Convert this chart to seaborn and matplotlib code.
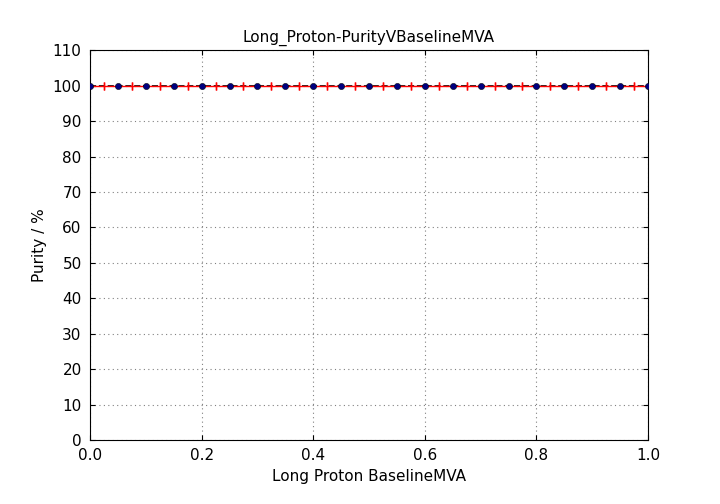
import numpy as np
import matplotlib
matplotlib.use("Agg")
import matplotlib.pyplot as plt
import seaborn as sns

sns.set_style("ticks")
plt.rcParams["font.family"] = ["DejaVu Sans"]
plt.rcParams["text.color"] = "black"
plt.rcParams["axes.labelcolor"] = "black"
plt.rcParams["xtick.color"] = "black"
plt.rcParams["ytick.color"] = "black"

# valores de pureza por bin
x_bins = [0.0, 0.05, 0.1, 0.15, 0.2, 0.25, 0.3, 0.35, 0.4, 0.45, 0.5,
          0.55, 0.6, 0.65, 0.7, 0.75, 0.8, 0.85, 0.9, 0.95, 1.0]
purity = [100.0] * len(x_bins)
x_err = [0.025] * len(x_bins)

fig, ax = plt.subplots(figsize=(7.2, 5.04), dpi=100)
fig.subplots_adjust(left=0.125, right=0.9, top=0.9, bottom=0.127)

sns.lineplot(x=x_bins, y=purity, ax=ax, color="black", linestyle="--", linewidth=1.2)
ax.errorbar(x_bins, purity, xerr=x_err, fmt="none", ecolor="red", capsize=3, elinewidth=1, zorder=3)
sns.scatterplot(x=x_bins, y=purity, ax=ax, color="#000080", edgecolor="black", s=20, zorder=4)

ax.set_xlim(0, 1.0)
ax.set_ylim(0, 110)
ax.set_yticks(np.arange(0, 111, 10))
ax.grid(True, linestyle=(0, (1, 3)), color="gray")
ax.set_title("Long_Proton-PurityVBaselineMVA", fontsize=11)
ax.set_xlabel("Long Proton BaselineMVA", fontsize=11)
ax.set_ylabel("Purity / %", fontsize=11)
ax.tick_params(direction="in", top=True, right=True, labelsize=11, pad=6)
for s in ax.spines.values():
    s.set_color("black")

fig.savefig("out.png")
